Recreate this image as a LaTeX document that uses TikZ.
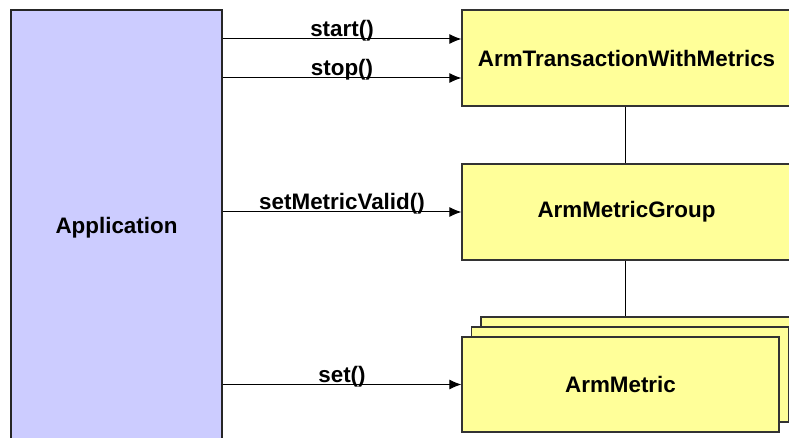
\documentclass[tikz,border=0pt]{standalone}
\usepackage{fontspec}
\setmainfont{Liberation Sans}
\usetikzlibrary{arrows.meta,positioning}
\definecolor{appblue}{HTML}{CCCCFF}
\definecolor{clsyellow}{HTML}{FFFF99}
\begin{document}
\begin{tikzpicture}[x=1pt, y=-1pt,
    appnode/.style={rectangle, draw=black!85, fill=appblue, line width=1.2pt, minimum width=211pt, minimum height=436pt, inner sep=0pt, font=\bfseries\fontsize{22.4}{26}\selectfont},
    classnode/.style={rectangle, draw=black!80, fill=clsyellow, line width=1.2pt, minimum width=329pt, minimum height=96pt, inner sep=0pt, font=\bfseries\fontsize{22.4}{26}\selectfont},
    metricnode/.style={classnode, minimum width=317pt, minimum height=95pt},
    msg/.style={-{Latex[length=12pt,width=10pt]}, line width=1pt},
    msglabel/.style={anchor=base, yshift=2.5pt, font=\bfseries\fontsize{22.4}{26}\selectfont}]

    \useasboundingbox (0,0) rectangle (789,438);

    \node[appnode] (app) at (116.5,228) {Application};

    \node[classnode] (txn) at (626.5,58) {ArmTransactionWithMetrics};
    \node[classnode] (grp) at (626.5,212) {ArmMetricGroup};
    \node[metricnode] (met3) at (639.5,364.5) {};
    \node[metricnode] (met2) at (630,374.5) {};
    \node[metricnode] (met1) at (620.5,384.5) {ArmMetric};

    \draw ([xshift=-1.5pt]txn.south) -- ([xshift=-1.5pt]grp.north);
    \draw ([xshift=-1.5pt]grp.south) -- ([xshift=-1.5pt]grp.south |- met3.north);

    \draw[msg] ([yshift=19pt]txn.west -| app.east) -- node[msglabel] {start()} ([yshift=19pt]txn.west);
    \draw[msg] ([yshift=-20pt]txn.west -| app.east) -- node[msglabel] {stop()} ([yshift=-20pt]txn.west);
    \draw[msg] (grp.west -| app.east) -- node[msglabel] {setMetricValid()} (grp.west);
    \draw[msg] (met1.west -| app.east) -- node[msglabel] {set()} (met1.west);

\end{tikzpicture}
\end{document}
